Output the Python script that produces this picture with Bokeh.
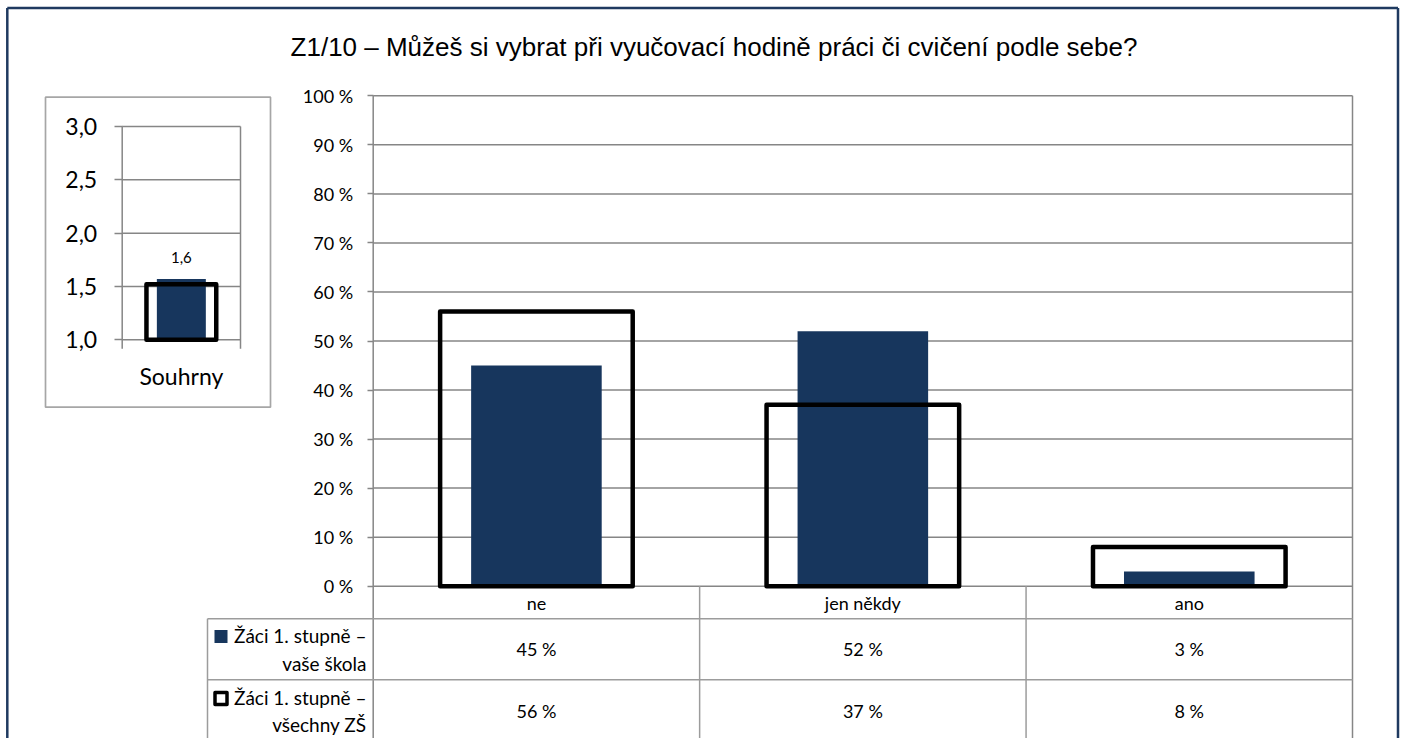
import numpy as np
from bokeh.plotting import figure
from bokeh.models import Range1d, LinearAxis, FixedTicker
from bokeh.core.properties import value
from bokeh.embed import file_html
from bokeh.resources import INLINE

# ---------------- data ----------------
title = "Z1/10 – Můžeš si vybrat při vyučovací hodině práci či cvičení podle sebe?"
categories = ["ne", "jen někdy", "ano"]
school = [45, 52, 3]          # Žáci 1. stupně – vaše škola
all_schools = [56, 37, 8]     # Žáci 1. stupně – všechny ZŠ
series_names = ["Žáci 1. stupně –\nvaše škola", "Žáci 1. stupně –\nvšechny ZŠ"]
pct_ticks = [0, 10, 20, 30, 40, 50, 60, 70, 80, 90, 100]
pct_tick_labels = ["0 %", "10 %", "20 %", "30 %", "40 %", "50 %", "60 %", "70 %", "80 %", "90 %", "100 %"]

summary_category = ["Souhrny"]
summary_school = [1.57]
summary_all = [1.52]
summary_ticks = [1.0, 1.5, 2.0, 2.5, 3.0]
summary_tick_labels = ["1,0", "1,5", "2,0", "2,5", "3,0"]

# ---------------- layout (canvas pixels) ----------------
W, H = 1404, 738
NAVY = "#17365D"
GRID = "#868686"
TABLE = "#9c9c9c"
FONT = "Lato"

MAIN_L, MAIN_R = 372.7, 1352.0
MAIN_Y0, MAIN_Y100 = 585.7, 95.3
INS_L, INS_R = 121.7, 240.0
INS_Y1, INS_Y3 = 339.3, 126.0
TABLE_L = 207.0
ROW_LINES = [618.3, 679.3]
CAT_ROW_Y = 602.0
ROW_Y = [648.8, 710.5]


def xrange_from(p0, p1, v0, v1):
    k = (v1 - v0) / (p1 - p0)
    return Range1d(start=v0 - p0 * k, end=v0 + (W - p0) * k)


def yrange_from(p0, p1, v0, v1):
    k = (v1 - v0) / (p1 - p0)
    return Range1d(start=v0 + (H - p0) * k, end=v0 - p0 * k)


n = len(categories)
xc = list(np.arange(n) + 0.5)

p = figure(width=W, height=H, x_range=Range1d(0, W), y_range=Range1d(H, 0),
           x_axis_type=None, y_axis_type=None, output_backend="svg",
           toolbar_location=None, min_border=0, outline_line_color=None,
           background_fill_color="white", border_fill_color="white")
p.extra_x_ranges = {"mx": xrange_from(MAIN_L, MAIN_R, 0, n),
                    "ix": xrange_from(INS_L, INS_R, 0, 1)}
my = yrange_from(MAIN_Y0, MAIN_Y100, 0, 100)
iy = yrange_from(INS_Y1, INS_Y3, 1.0, 3.0)
p.extra_y_ranges = {"my": my, "iy": iy}

# ---------------- outer border ----------------
p.segment(x0=[6.8, 6.8, 1397.5], y0=[H + 5, 7.5, 7.5], x1=[6.8, 1397.5, 1397.5], y1=[7.5, 7.5, H + 5],
          line_color="#1F3A60", line_width=2.5)

# ---------------- title ----------------
p.text(x=[713.5], y=[46], text=[title], text_font=value("Liberation Sans"),
       text_font_size="26px", text_font_style="normal", text_align="center",
       text_baseline="middle", text_color="black")

# ---------------- main chart ----------------
p.segment(x0=0, x1=n, y0=pct_ticks, y1=pct_ticks, x_range_name="mx", y_range_name="my",
          line_color=GRID, line_width=1.5)
p.segment(x0=[0, n], x1=[0, n], y0=[max(pct_ticks)] * 2, y1=[my.start] * 2,
          x_range_name="mx", y_range_name="my", line_color=GRID, line_width=1.5)

ax = LinearAxis(x_range_name="mx", y_range_name="my", fixed_location=0,
                ticker=FixedTicker(ticks=pct_ticks),
                major_label_overrides={t: l for t, l in zip(pct_ticks, pct_tick_labels)},
                axis_line_color=None, major_tick_line_color=GRID, major_tick_line_width=1.5,
                major_tick_out=6, major_tick_in=0, minor_tick_line_color=None,
                major_label_text_font=FONT, major_label_text_font_size="18px",
                major_label_text_color="black", major_label_standoff=14)
p.add_layout(ax, "left")

p.vbar(x=xc, top=school, bottom=0, width=0.4, x_range_name="mx", y_range_name="my",
       fill_color=NAVY, line_color=None)
p.vbar(x=xc, top=all_schools, bottom=0, width=0.59, x_range_name="mx", y_range_name="my",
       fill_color=None, line_color="black", line_width=4.5, line_join="round")

# ---------------- data table ----------------
p.segment(x0=list(range(1, n)), x1=list(range(1, n)), y0=[MAIN_Y0] * (n - 1), y1=[H + 5] * (n - 1),
          x_range_name="mx", line_color=TABLE, line_width=1.5)
p.segment(x0=[TABLE_L] * 2, x1=[MAIN_R] * 2, y0=ROW_LINES, y1=ROW_LINES,
          line_color=TABLE, line_width=1.5)
p.segment(x0=[TABLE_L], x1=[TABLE_L], y0=[ROW_LINES[0]], y1=[H + 5],
          line_color=TABLE, line_width=1.5)

p.text(x=xc, y=[CAT_ROW_Y] * n, text=categories, x_range_name="mx",
       text_font=value(FONT), text_font_size="18px", text_align="center",
       text_baseline="middle", text_color="black")
p.text(x=xc, y=[ROW_Y[0]] * n, text=[f"{v} %" for v in school], x_range_name="mx",
       text_font=value(FONT), text_font_size="18px", text_align="center",
       text_baseline="middle", text_color="black")
p.text(x=xc, y=[ROW_Y[1]] * n, text=[f"{v} %" for v in all_schools], x_range_name="mx",
       text_font=value(FONT), text_font_size="18px", text_align="center",
       text_baseline="middle", text_color="black")
p.text(x=[366, 366], y=[ROW_Y[0], ROW_Y[1]], text=series_names,
       text_font=value(FONT), text_font_size="19px", text_align="right",
       text_baseline="middle", text_color="black", text_line_height=1.2)
p.rect(x=[220.5], y=[636], width=13, height=13, fill_color=NAVY, line_color=None)
p.rect(x=[220.5], y=[698], width=12, height=12, fill_color="white", line_color="black",
       line_width=3.5, line_join="round")

# ---------------- summary inset ----------------
p.quad(left=[45], right=[270], top=[96.7], bottom=[406.7], fill_color=None,
       line_color="#a6a6a6", line_width=1.7)
p.segment(x0=0, x1=1, y0=summary_ticks, y1=summary_ticks, x_range_name="ix", y_range_name="iy",
          line_color=GRID, line_width=1.5)
tick_len = 9 * (iy.end - iy.start) / H
p.segment(x0=[0, 1], x1=[0, 1], y0=[max(summary_ticks)] * 2, y1=[min(summary_ticks) - tick_len] * 2,
          x_range_name="ix", y_range_name="iy", line_color=GRID, line_width=1.5)
iax = LinearAxis(x_range_name="ix", y_range_name="iy", fixed_location=0,
                 ticker=FixedTicker(ticks=summary_ticks),
                 major_label_overrides={t: l for t, l in zip(summary_ticks, summary_tick_labels)},
                 axis_line_color=None, major_tick_line_color=GRID, major_tick_line_width=1.5,
                 major_tick_out=8, major_tick_in=0, minor_tick_line_color=None,
                 major_label_text_font=FONT, major_label_text_font_size="23px",
                 major_label_text_color="black", major_label_standoff=17)
p.add_layout(iax, "left")

p.vbar(x=[0.5], top=summary_school, bottom=min(summary_ticks), width=0.414,
       x_range_name="ix", y_range_name="iy", fill_color=NAVY, line_color=None)
p.vbar(x=[0.5], top=summary_all, bottom=min(summary_ticks), width=0.59,
       x_range_name="ix", y_range_name="iy", fill_color=None, line_color="black",
       line_width=4.5, line_join="round")
p.text(x=[0.5], y=summary_school, text=[f"{v:.1f}".replace(".", ",") for v in summary_school],
       x_range_name="ix", y_range_name="iy", y_offset=-22,
       text_font=value(FONT), text_font_size="15px", text_align="center",
       text_baseline="middle", text_color="black")
p.text(x=[0.5], y=[min(summary_ticks)], text=summary_category, x_range_name="ix", y_range_name="iy",
       y_offset=36, text_font=value(FONT), text_font_size="23px", text_align="center",
       text_baseline="middle", text_color="black")

open("out.html", "w").write(file_html(p, INLINE))
